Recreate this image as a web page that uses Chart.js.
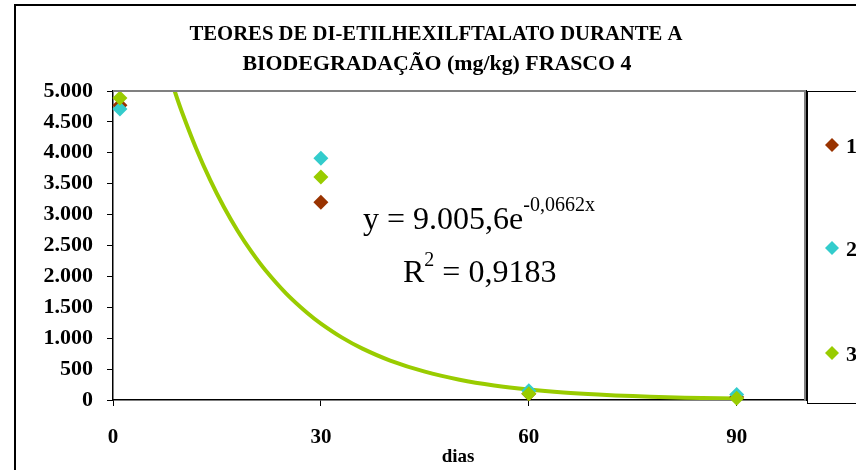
<!DOCTYPE html>
<html lang="pt">
<head>
    <meta charset="UTF-8">
    <title>Teores de DEHP - Frasco 4</title>
    <script src="https://cdn.jsdelivr.net/npm/chart.js"></script>
    <style>
        body {
            margin: 0;
            background: #fff;
        }
        #wrap {
            width: 856px;
            height: 470px;
            position: relative;
        }
    </style>
</head>
<body>
    <div id="wrap">
        <canvas id="chart" width="856" height="470"></canvas>
    </div>

    <script>
        // Data
        const dias = [1, 30, 60, 90];
        const serie1 = [4770, 3200, 100, 50];
        const serie2 = [4710, 3910, 150, 90];
        const serie3 = [4885, 3610, 100, 30];
        const seriesNames = ['1', '2', '3'];

        // Exponential trendline of series 3 (as shown: y = 9.005,6e^-0,0662x)
        const trendDias = [1, 4, 7, 8.9, 10, 12, 14, 16, 18, 20, 22, 25, 28, 30, 33, 36, 40, 45, 50, 55, 60, 65, 70, 75, 80, 85, 90];
        const trendValores = [8428, 6910, 5666, 5000, 4645, 4070, 3565, 3122, 2735, 2396, 2099, 1721, 1411, 1236, 1013, 831, 638, 458, 329, 236, 170, 122, 88, 63, 45, 32, 23];

        const xTicks = [0, 30, 60, 90];
        const titleLines = ['TEORES DE DI-ETILHEXILFTALATO DURANTE A', 'BIODEGRADAÇÃO (mg/kg) FRASCO 4'];
        const eqMain = 'y = 9.005,6e';
        const eqExp = '-0,0662x';
        const r2Label = 'R';
        const r2Exp = '2';
        const r2Value = ' = 0,9183';
        const xTitle = 'dias';

        const colors = ['#993300', '#33CCCC', '#99CC00'];
        const serif = '"Liberation Serif", "Times New Roman", serif';

        function toPoints(xs, ys) {
            return xs.map((x, i) => ({ x: x, y: ys[i] }));
        }

        function fmt(v) {
            return v.toLocaleString('de-DE');
        }

        // draw text squeezed to a given width
        function fitText(ctx, text, cx, y, width) {
            const w = ctx.measureText(text).width;
            ctx.save();
            ctx.translate(cx, y);
            ctx.scale(width / w, 1);
            ctx.textAlign = 'center';
            ctx.fillText(text, 0, 0);
            ctx.restore();
        }

        const decorations = {
            id: 'decorations',
            beforeDraw(chart) {
                const ctx = chart.ctx;
                ctx.save();
                // outer chart border
                ctx.strokeStyle = '#000';
                ctx.lineWidth = 2;
                ctx.strokeRect(15, 5, 900, 500);
                ctx.restore();
            },
            afterDatasetsDraw(chart) {
                const ctx = chart.ctx;
                const a = chart.chartArea;
                ctx.save();

                // plot area border (top/right)
                ctx.strokeStyle = '#808080';
                ctx.lineWidth = 2;
                ctx.beginPath();
                ctx.moveTo(a.left, a.top);
                ctx.lineTo(a.right - 1, a.top);
                ctx.lineTo(a.right - 1, a.bottom);
                ctx.stroke();
                ctx.strokeStyle = '#000';
                ctx.lineWidth = 1;
                ctx.beginPath();
                ctx.moveTo(a.right + 0.5, a.top - 1);
                ctx.lineTo(a.right + 0.5, a.bottom + 1);
                ctx.stroke();

                // title
                ctx.fillStyle = '#000';
                ctx.font = 'bold 20px ' + serif;
                ctx.textBaseline = 'alphabetic';
                fitText(ctx, titleLines[0], 436, 40, 493);
                fitText(ctx, titleLines[1], 437, 70, 389);

                // equation
                ctx.textAlign = 'left';
                ctx.font = '32px ' + serif;
                ctx.fillText(eqMain, 363, 229);
                let w = ctx.measureText(eqMain).width;
                ctx.font = '20px ' + serif;
                ctx.fillText(eqExp, 363 + w, 211);

                ctx.font = '32px ' + serif;
                ctx.fillText(r2Label, 403, 282);
                w = ctx.measureText(r2Label).width;
                ctx.font = '20px ' + serif;
                ctx.fillText(r2Exp, 403 + w, 266);
                const w2 = ctx.measureText(r2Exp).width;
                ctx.font = '32px ' + serif;
                ctx.fillText(r2Value, 403 + w + w2, 282);

                // x axis title
                ctx.textAlign = 'center';
                ctx.font = 'bold 19px ' + serif;
                ctx.fillText(xTitle, 458, 462);

                // legend box
                ctx.strokeStyle = '#000';
                ctx.lineWidth = 1;
                ctx.strokeRect(807.5, 91.5, 100, 312);
                const legY = [145, 248, 353];
                seriesNames.forEach((name, i) => {
                    const y = legY[i];
                    ctx.fillStyle = colors[i];
                    ctx.beginPath();
                    ctx.moveTo(832, y - 7);
                    ctx.lineTo(839, y);
                    ctx.lineTo(832, y + 7);
                    ctx.lineTo(825, y);
                    ctx.closePath();
                    ctx.fill();
                    ctx.fillStyle = '#000';
                    ctx.textAlign = 'left';
                    ctx.font = 'bold 22px ' + serif;
                    ctx.fillText(name, 846, y + 8);
                });

                ctx.restore();
            }
        };

        const scatterBase = {
            type: 'scatter',
            pointStyle: 'rectRot',
            pointRadius: 7.5,
            pointHoverRadius: 7.5,
            borderWidth: 0,
            clip: false
        };

        new Chart(document.getElementById('chart').getContext('2d'), {
            type: 'scatter',
            data: {
                datasets: [
                    Object.assign({}, scatterBase, {
                        label: seriesNames[2], data: toPoints(dias, serie3),
                        backgroundColor: colors[2], borderColor: colors[2], order: 0
                    }),
                    Object.assign({}, scatterBase, {
                        label: seriesNames[1], data: toPoints(dias, serie2),
                        backgroundColor: colors[1], borderColor: colors[1], order: 1
                    }),
                    Object.assign({}, scatterBase, {
                        label: seriesNames[0], data: toPoints(dias, serie1),
                        backgroundColor: colors[0], borderColor: colors[0], order: 2
                    }),
                    {
                        type: 'line',
                        label: 'trend',
                        data: toPoints(trendDias, trendValores),
                        borderColor: colors[2],
                        borderWidth: 4,
                        pointRadius: 0,
                        tension: 0.3,
                        fill: false,
                        order: 3
                    }
                ]
            },
            options: {
                responsive: false,
                animation: false,
                layout: { padding: { left: 0, top: 91, right: 50, bottom: 0 } },
                plugins: {
                    legend: { display: false },
                    tooltip: { enabled: false },
                    title: { display: false }
                },
                scales: {
                    x: {
                        type: 'linear',
                        min: 0,
                        max: 100,
                        afterFit(scale) { scale.height = 70; },
                        afterBuildTicks(scale) {
                            scale.ticks = xTicks.map(v => ({ value: v }));
                        },
                        grid: {
                            drawOnChartArea: false,
                            drawTicks: true,
                            tickLength: 6,
                            color: '#000'
                        },
                        border: { display: true, color: '#000', width: 1.5 },
                        ticks: {
                            color: '#000',
                            padding: 19,
                            font: { family: serif, size: 21, weight: 'bold' }
                        }
                    },
                    y: {
                        min: 0,
                        max: 5000,
                        afterFit(scale) { scale.width = 113; },
                        grid: {
                            drawOnChartArea: false,
                            drawTicks: true,
                            tickLength: 6,
                            color: '#000'
                        },
                        border: { display: true, color: '#000', width: 1.5 },
                        ticks: {
                            stepSize: 500,
                            color: '#000',
                            padding: 14,
                            font: { family: serif, size: 22, weight: 'bold' },
                            callback: v => fmt(v)
                        }
                    }
                }
            },
            plugins: [decorations]
        });
    </script>
</body>
</html>
